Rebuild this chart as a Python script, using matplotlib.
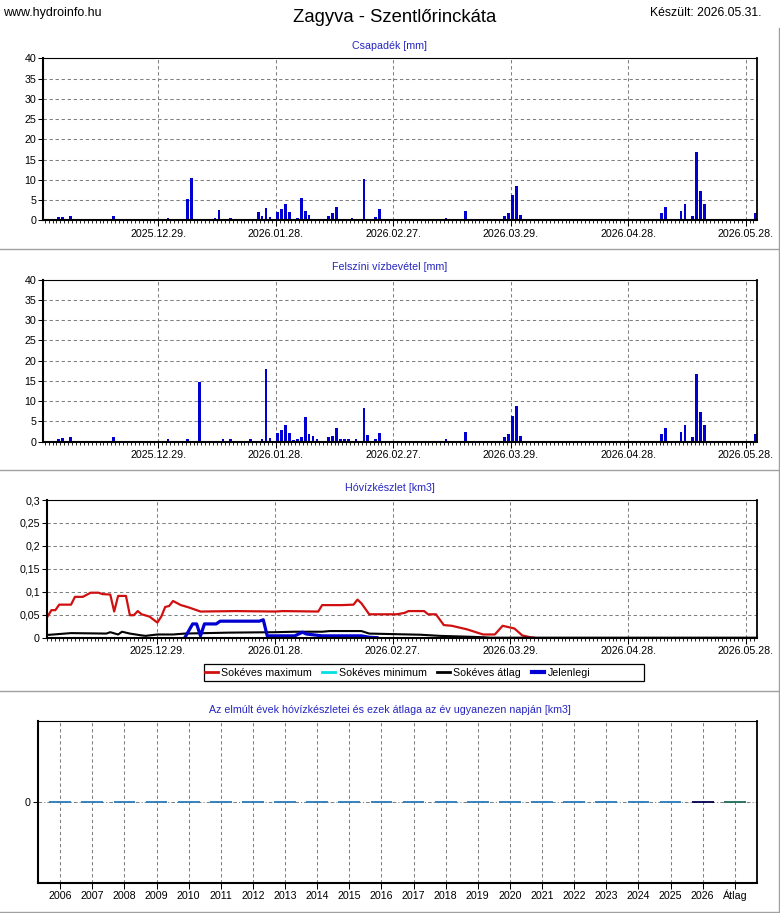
import numpy as np
import matplotlib
matplotlib.use('Agg')
import matplotlib.pyplot as plt
from matplotlib.lines import Line2D
from matplotlib.patches import Rectangle

plt.rcParams['font.family'] = ['Liberation Sans', 'DejaVu Sans']

# ---------------- data ----------------
ref_date = '2025-12-29'
tick_dates = ['2025-12-29', '2026-01-28', '2026-02-27', '2026-03-29', '2026-04-28', '2026-05-28']

precip_dates = ['2025-12-03', '2025-12-04', '2025-12-06', '2025-12-08', '2025-12-17', '2025-12-22',
                '2025-12-31', '2026-01-05', '2026-01-06', '2026-01-09', '2026-01-12', '2026-01-13',
                '2026-01-16', '2026-01-19', '2026-01-23', '2026-01-24', '2026-01-25', '2026-01-26',
                '2026-01-28', '2026-01-29', '2026-01-30', '2026-01-31', '2026-02-01', '2026-02-02',
                '2026-02-03', '2026-02-04', '2026-02-05', '2026-02-10', '2026-02-11', '2026-02-12',
                '2026-02-16', '2026-02-19', '2026-02-22', '2026-02-23', '2026-03-12', '2026-03-17',
                '2026-03-26', '2026-03-27', '2026-03-28', '2026-03-29', '2026-03-30', '2026-03-31',
                '2026-04-14', '2026-05-06', '2026-05-07', '2026-05-11', '2026-05-12', '2026-05-14',
                '2026-05-15', '2026-05-16', '2026-05-17', '2026-05-21', '2026-05-30']
precip_vals = [0.8, 0.8, 1.1, 0.2, 1.1, 0.2,
               0.6, 5.3, 10.6, 0.2, 0.6, 2.6,
               0.6, 0.2, 2.1, 1.1, 3.1, 0.8,
               2.1, 2.8, 4.1, 2.1, 0.4, 0.6,
               5.6, 2.3, 1.3, 1.1, 1.8, 3.3,
               0.6, 10.3, 0.8, 2.8, 0.6, 2.3,
               0.2, 1.1, 1.8, 6.3, 8.6, 1.3,
               0.2, 1.8, 3.3, 2.3, 4.1, 1.1,
               16.8, 7.3, 4.1, 0.2, 1.8]

runoff_dates = ['2025-12-03', '2025-12-04', '2025-12-06', '2025-12-08', '2025-12-17', '2025-12-22',
                '2025-12-31', '2026-01-05', '2026-01-08', '2026-01-14', '2026-01-16', '2026-01-21',
                '2026-01-24', '2026-01-25', '2026-01-26', '2026-01-28', '2026-01-29', '2026-01-30',
                '2026-01-31', '2026-02-01', '2026-02-02', '2026-02-03', '2026-02-04', '2026-02-05',
                '2026-02-06', '2026-02-07', '2026-02-10', '2026-02-11', '2026-02-12', '2026-02-13',
                '2026-02-14', '2026-02-15', '2026-02-17', '2026-02-19', '2026-02-20', '2026-02-22',
                '2026-02-23', '2026-03-12', '2026-03-17', '2026-03-26', '2026-03-27', '2026-03-28',
                '2026-03-29', '2026-03-30', '2026-03-31', '2026-04-14', '2026-05-06', '2026-05-07',
                '2026-05-11', '2026-05-12', '2026-05-14', '2026-05-15', '2026-05-16', '2026-05-17',
                '2026-05-21', '2026-05-30']
runoff_vals = [0.6, 0.9, 1.2, 0.2, 1.2, 0.2,
               0.7, 0.7, 14.7, 0.7, 0.7, 0.7,
               0.7, 17.9, 0.9, 2.2, 2.9, 4.2,
               2.2, 0.3, 0.7, 1.2, 6.2, 1.9,
               1.4, 0.7, 1.2, 1.4, 3.4, 0.7,
               0.7, 0.7, 0.7, 8.4, 1.7, 0.7,
               2.2, 0.7, 2.4, 0.2, 1.2, 1.9,
               6.4, 8.7, 1.4, 0.2, 1.8, 3.3,
               2.3, 4.1, 1.1, 16.8, 7.3, 4.1,
               0.2, 1.8]

max_dates = ['2025-12-01', '2025-12-02', '2025-12-03', '2025-12-04', '2025-12-07', '2025-12-08',
             '2025-12-10', '2025-12-12', '2025-12-14', '2025-12-15', '2025-12-17', '2025-12-18',
             '2025-12-19', '2025-12-21', '2025-12-22', '2025-12-23', '2025-12-24', '2025-12-25',
             '2025-12-27', '2025-12-29', '2025-12-30', '2025-12-31', '2026-01-01', '2026-01-02',
             '2026-01-04', '2026-01-06', '2026-01-09', '2026-01-18', '2026-01-28', '2026-01-30',
             '2026-02-08', '2026-02-09', '2026-02-14', '2026-02-17', '2026-02-18', '2026-02-19',
             '2026-02-21', '2026-02-28', '2026-03-02', '2026-03-03', '2026-03-07', '2026-03-08',
             '2026-03-10', '2026-03-12', '2026-03-14', '2026-03-18', '2026-03-22', '2026-03-25',
             '2026-03-27', '2026-03-30', '2026-04-01', '2026-04-03', '2026-04-04']
max_vals = [0.046, 0.060, 0.060, 0.072, 0.072, 0.089,
            0.089, 0.098, 0.098, 0.095, 0.094, 0.057,
            0.091, 0.091, 0.049, 0.049, 0.058, 0.051,
            0.046, 0.033, 0.046, 0.067, 0.069, 0.080,
            0.071, 0.066, 0.057, 0.058, 0.057, 0.058,
            0.057, 0.071, 0.071, 0.072, 0.083, 0.075,
            0.051, 0.051, 0.054, 0.058, 0.058, 0.051,
            0.051, 0.0275, 0.026, 0.018, 0.007, 0.007,
            0.026, 0.020, 0.005, 0.001, 0.0]

min_dates = ['2025-11-30', '2026-05-31']
min_vals = [0.0, 0.0]

avg_dates = ['2025-12-01', '2025-12-07', '2025-12-16', '2025-12-17', '2025-12-19', '2025-12-20',
             '2025-12-22', '2025-12-25', '2025-12-26', '2025-12-29', '2026-01-02', '2026-01-05',
             '2026-01-16', '2026-01-28', '2026-02-02', '2026-02-09', '2026-02-11', '2026-02-19',
             '2026-02-21', '2026-02-26', '2026-03-06', '2026-03-11', '2026-03-19', '2026-03-22',
             '2026-03-24', '2026-05-31']
avg_vals = [0.006, 0.010, 0.009, 0.012, 0.007, 0.013,
            0.009, 0.005, 0.004, 0.007, 0.007, 0.009,
            0.011, 0.012, 0.013, 0.013, 0.0145, 0.0145,
            0.009, 0.008, 0.0065, 0.004, 0.002, 0.001,
            0.0, 0.0]

cur_dates = ['2026-01-05', '2026-01-07', '2026-01-08', '2026-01-09', '2026-01-10', '2026-01-13',
             '2026-01-14', '2026-01-24', '2026-01-25', '2026-01-26', '2026-02-02', '2026-02-04',
             '2026-02-05', '2026-02-09', '2026-02-19', '2026-02-21', '2026-02-23']
cur_vals = [0.0, 0.030, 0.030, 0.004, 0.030, 0.030,
            0.036, 0.036, 0.039, 0.004, 0.004, 0.012,
            0.008, 0.004, 0.004, 0.001, 0.0]

years = ['2006', '2007', '2008', '2009', '2010', '2011', '2012', '2013', '2014', '2015', '2016',
         '2017', '2018', '2019', '2020', '2021', '2022', '2023', '2024', '2025', '2026', 'Átlag']
year_vals = [0, 0, 0, 0, 0, 0, 0, 0, 0, 0, 0, 0, 0, 0, 0, 0, 0, 0, 0, 0, 0, 0]

snow_yticks = [0, 0.05, 0.1, 0.15, 0.2, 0.25, 0.3]
snow_ylabels = ['0', '0,05', '0,1', '0,15', '0,2', '0,25', '0,3']

# ---------------- helpers ----------------
W, H, DPI = 780, 913, 100
ref = np.datetime64(ref_date)


def days(ds):
    return (np.array(ds, dtype='datetime64[D]') - ref).astype(float)


def rect(l, r, t, b):
    return [l / W, 1 - b / H, (r - l) / W, (b - t) / H]


FS = 7.7
GRID = dict(color='#808080', linewidth=0.75, linestyle=(0, (3.2, 2.6)))
BLUE = '#0000D0'
TITLE_BLUE = '#2525C0'

fig = plt.figure(figsize=(W / DPI, H / DPI), dpi=DPI)
fig.patch.set_facecolor('white')


def style_spines(ax):
    for s, lw in (('left', 1.5), ('bottom', 1.5), ('right', 1.3), ('top', 0.8)):
        ax.spines[s].set_linewidth(lw)
        ax.spines[s].set_color('black')
        ax.spines[s].set_zorder(5)


def date_axis(ax, xlim):
    ax.set_xlim(*xlim)
    td = days(tick_dates)
    ax.set_xticks(td)
    ax.set_xticklabels([d.replace('-', '.') + '.' for d in tick_dates])
    ax.set_xticks(np.arange(np.ceil(xlim[0]), xlim[1] + 0.01, 1.0), minor=True)
    ax.tick_params(axis='x', which='major', length=4, width=0.75, pad=2, labelsize=FS)
    ax.tick_params(axis='x', which='minor', length=2.5, width=0.6)
    ax.tick_params(axis='y', which='major', length=3.5, width=0.75, pad=1.5, labelsize=FS)
    ax.grid(True, which='major', **GRID)
    ax.set_axisbelow(True)
    style_spines(ax)


# Panel 1: precipitation
ax1 = fig.add_axes(rect(43.3, 757, 58.3, 220.5))
ax1.bar(days(precip_dates) + 0.5, precip_vals, width=0.7, color=BLUE, zorder=3)
ax1.set_ylim(0, 40)
ax1.set_yticks(np.arange(0, 41, 5))
date_axis(ax1, (-29.37, 152.9))

# Panel 2: runoff
ax2 = fig.add_axes(rect(43.3, 757, 279.7, 441.7))
ax2.bar(days(runoff_dates) + 0.5, runoff_vals, width=0.7, color=BLUE, zorder=3)
ax2.set_ylim(0, 40)
ax2.set_yticks(np.arange(0, 41, 5))
date_axis(ax2, (-29.37, 152.9))

# Panel 3: snow water
ax3 = fig.add_axes(rect(46.7, 757.3, 500, 637.7))
ax3.plot(days(min_dates), min_vals, color='#00E0E0', lw=1.0, zorder=1)
ax3.plot(days(max_dates), max_vals, color='#D01010', lw=1.6, zorder=3)
ax3.plot(days(avg_dates), avg_vals, color='black', lw=1.5, zorder=3)
ax3.plot(days(cur_dates), cur_vals, color=BLUE, lw=2.3, zorder=4)
ax3.set_ylim(0, 0.3)
ax3.set_yticks(snow_yticks)
ax3.set_yticklabels(snow_ylabels)
date_axis(ax3, (-28.2, 152.9))

handles = [Line2D([], [], color='#D01010', lw=2),
           Line2D([], [], color='#00E0E0', lw=2),
           Line2D([], [], color='black', lw=2),
           Line2D([], [], color=BLUE, lw=3)]
labels = ['Sokéves maximum', 'Sokéves minimum', 'Sokéves átlag', 'Jelenlegi']
fig.add_artist(Rectangle((203.5 / W, 1 - 681.5 / H), (644 - 203.5) / W, (681.5 - 664) / H,
                         transform=fig.transFigure, facecolor='white', edgecolor='black',
                         linewidth=0.9))
fig.legend(handles, labels, loc='center left', bbox_to_anchor=(205 / W, 1 - 673 / H),
           ncol=4, frameon=False, fontsize=FS, handlelength=1.2, handletextpad=0.3,
           columnspacing=1.0, borderpad=0.0, borderaxespad=0)

# Panel 4: yearly values
ax4 = fig.add_axes(rect(37.7, 757.3, 721, 883.3))
xpos = np.arange(len(years))
bar_cols = ['#2B7BBA'] * (len(years) - 2) + ['#000050', '#1F6A5A']
ax4.bar(xpos, year_vals, width=0.68, color=bar_cols, edgecolor=bar_cols, linewidth=1.3, zorder=3)
ax4.set_xlim(-0.7, len(years) - 0.3)
ax4.set_ylim(-1, 1)
ax4.set_yticks([0])
ax4.set_xticks(xpos)
ax4.set_xticklabels(years, va='baseline')
ax4.tick_params(axis='x', length=4, width=0.75, pad=7.5, labelsize=FS)
ax4.tick_params(axis='y', length=3.5, width=0.75, pad=1.5, labelsize=FS)
ax4.grid(True, axis='x', **GRID)
ax4.grid(True, axis='y', color='#808080', linewidth=0.75, linestyle=(0, (3.5, 2, 1, 2)))
ax4.set_axisbelow(True)
style_spines(ax4)

# ---------------- texts ----------------
fig.text(3 / W, 1 - 13 / H, 'www.hydroinfo.hu', fontsize=9, ha='left', va='center')
fig.text(395 / W, 1 - 17.5 / H, 'Zagyva - Szentlőrinckáta', fontsize=13.3, ha='center', va='center')
fig.text(762 / W, 1 - 13 / H, 'Készült: 2026.05.31.', fontsize=8.8, ha='right', va='center')

panel_titles = ['Csapadék [mm]', 'Felszíni vízbevétel [mm]', 'Hóvízkészlet [km3]',
                'Az elmúlt évek hóvízkészletei és ezek átlaga az év ugyanezen napján [km3]']
title_y = [46, 267, 488, 709.5]
for t, y in zip(panel_titles, title_y):
    fig.text(390 / W, 1 - y / H, t, fontsize=FS, color=TITLE_BLUE, ha='center', va='center')

# panel separators / frame
sep_col = '#A0A0A0'
for y in (249.5, 470.5, 691, 911.5):
    fig.add_artist(Line2D([0, 779 / W], [1 - y / H, 1 - y / H], color=sep_col, lw=1.0,
                          transform=fig.transFigure))
fig.add_artist(Line2D([778.5 / W, 778.5 / W], [1 - 28 / H, 1 - 911.5 / H], color=sep_col, lw=1.0,
                      transform=fig.transFigure))

fig.savefig('out.png', dpi=DPI, facecolor='white')
